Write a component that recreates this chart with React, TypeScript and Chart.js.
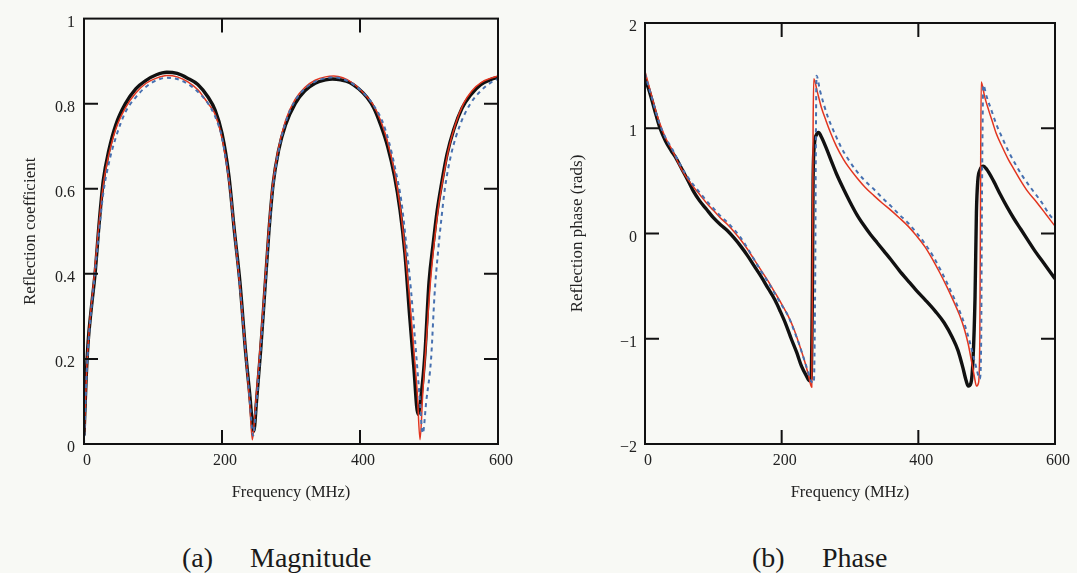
import React, { useEffect, useRef } from "react";
import { Chart, registerables } from "chart.js";

Chart.register(...registerables);

// ---------- Magnitude data ----------
const magFreqMeasured = [0, 3, 6, 10, 16, 22, 28, 36, 46, 60, 75, 90, 105, 120, 135, 150, 165, 180, 190, 200, 210, 218, 226, 234, 240, 246, 250, 256, 262, 268, 274, 282, 292, 306, 320, 335, 350, 360, 372, 385, 398, 410, 420, 430, 440, 450, 458, 465, 472, 478, 484, 489, 494, 500, 506, 512, 518, 526, 536, 548, 560, 575, 590, 600];
const magMeasured = [0.02, 0.15, 0.24, 0.31, 0.4, 0.52, 0.62, 0.69, 0.75, 0.8, 0.835, 0.855, 0.868, 0.874, 0.871, 0.86, 0.845, 0.815, 0.785, 0.73, 0.63, 0.5, 0.38, 0.22, 0.12, 0.03, 0.1, 0.22, 0.36, 0.5, 0.61, 0.69, 0.75, 0.8, 0.83, 0.848, 0.856, 0.858, 0.856, 0.85, 0.835, 0.815, 0.79, 0.75, 0.7, 0.63, 0.55, 0.45, 0.3, 0.18, 0.07, 0.12, 0.21, 0.38, 0.47, 0.55, 0.61, 0.68, 0.74, 0.79, 0.82, 0.845, 0.857, 0.862];

const magFreqModelA = [0, 4, 8, 14, 20, 28, 36, 46, 60, 75, 90, 105, 120, 135, 150, 165, 180, 190, 200, 210, 218, 226, 234, 240, 244, 248, 254, 260, 266, 272, 280, 292, 306, 320, 335, 350, 362, 375, 390, 405, 418, 430, 440, 450, 458, 465, 472, 478, 483, 487, 491, 496, 502, 508, 514, 520, 528, 538, 550, 562, 576, 590, 600];
const magModelA = [0.0, 0.18, 0.28, 0.38, 0.49, 0.61, 0.68, 0.74, 0.79, 0.825, 0.848, 0.86, 0.866, 0.863, 0.852, 0.833, 0.8, 0.775, 0.72, 0.62, 0.5, 0.37, 0.22, 0.1, 0.01, 0.08, 0.2, 0.33, 0.47, 0.59, 0.68, 0.76, 0.81, 0.838, 0.855, 0.863, 0.865, 0.861, 0.848, 0.825, 0.8, 0.76, 0.71, 0.64, 0.56, 0.46, 0.34, 0.22, 0.12, 0.01, 0.12, 0.24, 0.38, 0.48, 0.56, 0.62, 0.69, 0.75, 0.8, 0.83, 0.85, 0.86, 0.865];

const magFreqModelB = [0, 4, 8, 14, 20, 28, 36, 46, 60, 75, 90, 105, 120, 135, 150, 165, 180, 190, 200, 210, 218, 226, 234, 240, 245, 249, 255, 261, 267, 273, 281, 293, 307, 320, 335, 350, 362, 375, 390, 405, 418, 432, 442, 452, 460, 467, 474, 480, 486, 491, 496, 503, 508, 513, 518, 523, 532, 545, 560, 575, 590, 600];
const magModelB = [0.0, 0.17, 0.27, 0.37, 0.47, 0.59, 0.66, 0.72, 0.78, 0.815, 0.84, 0.855, 0.861, 0.858, 0.847, 0.828, 0.8, 0.77, 0.72, 0.62, 0.5, 0.37, 0.22, 0.11, 0.02, 0.08, 0.2, 0.33, 0.47, 0.59, 0.68, 0.76, 0.81, 0.835, 0.852, 0.86, 0.862, 0.858, 0.846, 0.825, 0.8, 0.76, 0.71, 0.64, 0.57, 0.47, 0.36, 0.24, 0.12, 0.025, 0.1, 0.2, 0.35, 0.45, 0.53, 0.6, 0.68, 0.75, 0.8, 0.83, 0.85, 0.858];

// ---------- Phase data ----------
const phFreqMeasured = [0, 5, 10, 16, 22, 30, 38, 46, 55, 64, 71, 80, 90, 100, 111, 120, 130, 140, 150, 160, 170, 180, 190, 198, 206, 214, 222, 229, 236, 241, 243, 245, 246, 248, 251, 254, 258, 266, 272, 280, 290, 300, 310, 320, 330, 340, 350, 360, 372, 385, 397, 410, 425, 438, 450, 458, 465, 470, 473, 477, 480, 483, 485, 487, 490, 495, 500, 510, 520, 530, 540, 550, 560, 570, 580, 590, 600];
const phMeasured = [1.47, 1.38, 1.27, 1.13, 1.0, 0.88, 0.79, 0.71, 0.6, 0.49, 0.4, 0.31, 0.23, 0.15, 0.08, 0.03, -0.04, -0.12, -0.21, -0.31, -0.41, -0.52, -0.63, -0.74, -0.86, -1.0, -1.13, -1.26, -1.35, -1.4, -1.38, -0.5, 0.5, 0.85, 0.94, 0.96, 0.92, 0.8, 0.7, 0.57, 0.43, 0.3, 0.18, 0.08, -0.01, -0.09, -0.17, -0.25, -0.35, -0.45, -0.54, -0.63, -0.74, -0.85, -0.99, -1.11, -1.27, -1.4, -1.45, -1.42, -1.2, -0.6, 0.2, 0.5, 0.6, 0.64, 0.61, 0.5, 0.37, 0.25, 0.14, 0.04, -0.06, -0.16, -0.25, -0.34, -0.43];

const phFreqModelA = [0, 5, 10, 16, 22, 30, 40, 51, 60, 70, 80, 90, 100, 110, 120, 130, 140, 150, 160, 170, 180, 190, 200, 210, 218, 226, 233, 239, 244, 245, 246, 247, 252, 258, 265, 272, 280, 290, 297, 310, 322, 335, 347, 360, 372, 385, 397, 410, 422, 432, 442, 452, 460, 467, 473, 478, 482, 485, 488, 490, 491, 492, 497, 503, 509, 514, 523, 532, 540, 549, 560, 574, 587, 600];
const phModelA = [1.54, 1.42, 1.3, 1.16, 1.04, 0.91, 0.79, 0.64, 0.54, 0.45, 0.37, 0.29, 0.22, 0.15, 0.09, 0.02, -0.06, -0.15, -0.25, -0.35, -0.45, -0.56, -0.67, -0.79, -0.91, -1.06, -1.2, -1.34, -1.46, -0.5, 1.0, 1.47, 1.35, 1.2, 1.07, 0.95, 0.83, 0.71, 0.64, 0.53, 0.44, 0.36, 0.29, 0.22, 0.15, 0.07, -0.02, -0.13, -0.26, -0.38, -0.51, -0.65, -0.77, -0.9, -1.05, -1.22, -1.36, -1.45, -1.42, -1.0, 0.3, 1.44, 1.3, 1.17, 1.05, 0.95, 0.82, 0.7, 0.61, 0.51, 0.4, 0.29, 0.18, 0.07];

const phFreqModelB = [0, 5, 10, 16, 22, 30, 40, 51, 60, 70, 80, 90, 100, 110, 120, 130, 140, 150, 160, 170, 180, 190, 200, 210, 218, 226, 233, 238, 243, 247, 249, 250, 251, 256, 262, 268, 277, 287, 297, 310, 322, 335, 347, 360, 372, 385, 397, 410, 422, 432, 442, 452, 460, 467, 474, 480, 485, 490, 492, 493, 494, 495, 500, 507, 514, 522, 532, 542, 552, 565, 580, 593, 600];
const phModelB = [1.52, 1.4, 1.29, 1.15, 1.03, 0.91, 0.8, 0.66, 0.56, 0.47, 0.39, 0.31, 0.24, 0.17, 0.11, 0.04, -0.04, -0.14, -0.25, -0.36, -0.46, -0.57, -0.68, -0.79, -0.92, -1.06, -1.2, -1.3, -1.4, -1.42, -0.5, 0.8, 1.5, 1.36, 1.22, 1.1, 0.96, 0.82, 0.71, 0.59, 0.5, 0.42, 0.34, 0.26, 0.18, 0.1, 0.01, -0.1, -0.22, -0.34, -0.47, -0.61, -0.73, -0.85, -1.0, -1.15, -1.28, -1.38, -1.0, 0.2, 1.0, 1.41, 1.3, 1.17, 1.04, 0.92, 0.78, 0.66, 0.55, 0.43, 0.3, 0.17, 0.12];

// ---------- Axis labels ----------
const freqTicks = [0, 200, 400, 600];
const freqTickLabels = ["0", "200", "400", "600"];
const magTicks = [0, 0.2, 0.4, 0.6, 0.8, 1];
const magTickLabels = ["0", "0.2", "0.4", "0.6", "0.8", "1"];
const phaseTicks = [-2, -1, 0, 1, 2];
const phaseTickLabels = ["\u22122", "\u22121", "0", "1", "2"];

const SERIF = "'Liberation Serif', 'Times New Roman', Times, serif";
const BLACK = "#111111";
const RED = "#e2351f";
const BLUE = "#4670b0";

const toPts = (xs: number[], ys: number[]) => xs.map((x, i) => ({ x, y: ys[i] }));

const labelFor = (ticks: number[], labels: string[]) => (v: any) => {
  const i = ticks.findIndex((t) => Math.abs(t - Number(v)) < 1e-6);
  return i >= 0 ? labels[i] : "";
};

const boxPlugin = {
  id: "boxTicks",
  afterDatasetsDraw(chart: any, _args: any, opts: any) {
    const { ctx, chartArea } = chart;
    const { left, right, top, bottom } = chartArea;
    const xs = chart.scales.x;
    const ys = chart.scales.y;
    const L = 14;
    ctx.save();
    ctx.strokeStyle = "#111";
    ctx.lineWidth = 2;
    ctx.strokeRect(left, top, right - left, bottom - top);
    ctx.beginPath();
    (opts.xTicks as number[]).forEach((t) => {
      if (t === xs.min || t === xs.max) return;
      const p = xs.getPixelForValue(t);
      ctx.moveTo(p, bottom);
      ctx.lineTo(p, bottom - L);
      ctx.moveTo(p, top);
      ctx.lineTo(p, top + L);
    });
    (opts.yTicks as number[]).forEach((t) => {
      if (t === ys.min || t === ys.max) return;
      const p = ys.getPixelForValue(t);
      ctx.moveTo(left, p);
      ctx.lineTo(left + L, p);
      ctx.moveTo(right, p);
      ctx.lineTo(right - L, p);
    });
    ctx.stroke();
    ctx.restore();
  },
};

type PanelProps = {
  left: number;
  width: number;
  height: number;
  plotLeft: number;
  plotRight: number;
  plotTop: number;
  plotBottom: number;
  series: { xs: number[]; ys: number[] }[];
  yMin: number;
  yMax: number;
  yTicks: number[];
  yLabels: string[];
  yTitle: string;
  yTitlePad: number;
  yLabelPad: number;
};

function Panel(p: PanelProps) {
  const ref = useRef<HTMLCanvasElement | null>(null);
  useEffect(() => {
    if (!ref.current) return;
    const styles = [
      { color: BLACK, width: 3.4, dash: [] as number[], order: 2 },
      { color: RED, width: 1.5, dash: [] as number[], order: 1 },
      { color: BLUE, width: 2, dash: [4, 4], order: 0 },
    ];
    const chart = new Chart(ref.current, {
      type: "line",
      data: {
        datasets: p.series.map((s, i) => ({
          data: toPts(s.xs, s.ys),
          borderColor: styles[i].color,
          borderWidth: styles[i].width,
          borderDash: styles[i].dash,
          pointRadius: 0,
          cubicInterpolationMode: "monotone" as const,
          fill: false,
          order: styles[i].order,
          borderJoinStyle: "round" as const,
        })),
      },
      options: {
        responsive: false,
        animation: false,
        events: [],
        layout: {
          padding: {
            left: 0,
            top: p.plotTop,
            right: p.width - p.plotRight,
            bottom: 0,
          },
        },
        plugins: {
          legend: { display: false },
          tooltip: { enabled: false },
          boxTicks: { xTicks: freqTicks, yTicks: p.yTicks },
        } as any,
        scales: {
          x: {
            type: "linear",
            min: 0,
            max: 600,
            afterFit: (s: any) => {
              s.height = p.height - p.plotBottom;
            },
            afterBuildTicks: (s: any) => {
              s.ticks = freqTicks.map((v) => ({ value: v }));
            },
            grid: { display: false, drawTicks: false },
            border: { display: false },
            ticks: {
              padding: 7,
              labelOffset: 3,
              color: "#222",
              maxRotation: 0,
              font: { family: SERIF, size: 16 },
              callback: labelFor(freqTicks, freqTickLabels),
            },
            title: {
              display: true,
              text: "Frequency (MHz)",
              color: "#222",
              font: { family: SERIF, size: 16.5 },
              padding: { top: 0, bottom: 17 },
            },
          },
          y: {
            type: "linear",
            min: p.yMin,
            max: p.yMax,
            afterFit: (s: any) => {
              s.width = p.plotLeft;
            },
            afterBuildTicks: (s: any) => {
              s.ticks = p.yTicks.map((v) => ({ value: v }));
            },
            grid: { display: false, drawTicks: false },
            border: { display: false },
            ticks: {
              padding: p.yLabelPad,
              labelOffset: 4,
              color: "#222",
              font: { family: SERIF, size: 16 },
              callback: labelFor(p.yTicks, p.yLabels),
            },
            title: {
              display: true,
              text: p.yTitle,
              color: "#222",
              font: { family: SERIF, size: 17 },
              padding: { top: p.yTitlePad, bottom: 0 },
            },
          },
        },
      },
      plugins: [boxPlugin],
    });
    return () => chart.destroy();
  }, []);
  return (
    <canvas
      ref={ref}
      width={p.width}
      height={p.height}
      style={{ position: "absolute", left: p.left, top: 0, width: p.width, height: p.height }}
    />
  );
}

const captionStyle: React.CSSProperties = {
  position: "absolute",
  top: 544,
  fontFamily: SERIF,
  fontSize: 28,
  lineHeight: "28px",
  color: "#1a1a1a",
  whiteSpace: "nowrap",
};

export default function App() {
  return (
    <div
      style={{
        position: "fixed",
        left: 0,
        top: 0,
        width: 1077,
        height: 573,
        background: "#f8f9f5",
        overflow: "hidden",
      }}
    >
      <Panel
        left={0}
        width={545}
        height={520}
        plotLeft={84}
        plotRight={498}
        plotTop={18}
        plotBottom={444}
        series={[
          { xs: magFreqMeasured, ys: magMeasured },
          { xs: magFreqModelA, ys: magModelA },
          { xs: magFreqModelB, ys: magModelB },
        ]}
        yMin={0}
        yMax={1}
        yTicks={magTicks}
        yLabels={magTickLabels}
        yTitle="Reflection coefficient"
        yTitlePad={20}
        yLabelPad={9}
      />
      <Panel
        left={545}
        width={532}
        height={520}
        plotLeft={100}
        plotRight={510}
        plotTop={23}
        plotBottom={444}
        series={[
          { xs: phFreqMeasured, ys: phMeasured },
          { xs: phFreqModelA, ys: phModelA },
          { xs: phFreqModelB, ys: phModelB },
        ]}
        yMin={-2}
        yMax={2}
        yTicks={phaseTicks}
        yLabels={phaseTickLabels}
        yTitle="Reflection phase (rads)"
        yTitlePad={22}
        yLabelPad={8}
      />
      <div style={{ ...captionStyle, left: 182 }}>(a)</div>
      <div style={{ ...captionStyle, left: 250 }}>Magnitude</div>
      <div style={{ ...captionStyle, left: 752 }}>(b)</div>
      <div style={{ ...captionStyle, left: 822 }}>Phase</div>
    </div>
  );
}
